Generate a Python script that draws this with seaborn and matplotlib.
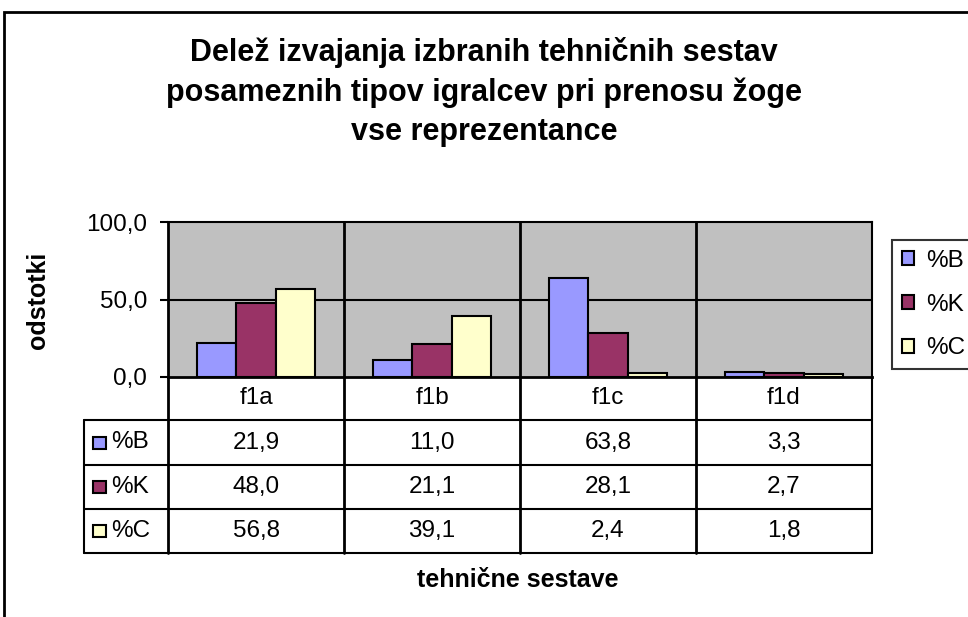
import numpy as np
import pandas as pd
import matplotlib
matplotlib.use('Agg')
import matplotlib.pyplot as plt
import matplotlib.patches as mpatches
from matplotlib.ticker import FuncFormatter
import seaborn as sns

# ── Data ───────────────────────────────────────────────────
categories = ['f1a', 'f1b', 'f1c', 'f1d']
series = ['%B', '%K', '%C']
pct_B = [21.9, 11.0, 63.8, 3.3]
pct_K = [48.0, 21.1, 28.1, 2.7]
pct_C = [56.8, 39.1, 2.4, 1.8]
colors = ['#9999FF', '#993366', '#FFFFCC']

title = ('Delež izvajanja izbranih tehničnih sestav\n'
         'posameznih tipov igralcev pri prenosu žoge\n'
         'vse reprezentance')

df = pd.DataFrame({
    'sestava': categories * 3,
    'serija': [s for s in series for _ in categories],
    'odstotek': pct_B + pct_K + pct_C,
})

def comma(v):
    return f'{v:.1f}'.replace('.', ',')

# ── Figure ─────────────────────────────────────────────────
sns.set_theme(style='white')
plt.rcParams['font.family'] = ['Liberation Sans', 'DejaVu Sans']
plt.rcParams['text.color'] = 'black'
plt.rcParams['ytick.color'] = 'black'
plt.rcParams['xtick.color'] = 'black'
plt.rcParams['axes.labelcolor'] = 'black'

FS = 17.5   # table / ticks / legend
W, H = 968, 617
fig = plt.figure(figsize=(W / 100, H / 100), dpi=100)

def fx(px):
    return px / W

def fy(py):
    return 1 - py / H

# outer chart border (clipped at right / bottom like the reference)
fig.patches.append(mpatches.Rectangle((fx(4), -0.1), 1.2, fy(12) + 0.1,
                                      transform=fig.transFigure, fill=False,
                                      edgecolor='black', linewidth=2))

# plot area
ax = fig.add_axes([fx(168), fy(377), fx(872 - 168), (377 - 222) / H])
ax.set_facecolor('#C0C0C0')
sns.barplot(data=df, x='sestava', y='odstotek', hue='serija', palette=colors,
            width=0.665, edgecolor='black', linewidth=1.5, ax=ax,
            legend=False, saturation=1)
ax.set_xlim(-0.5, 3.5)
ax.set_ylim(0, 100)
ax.set_yticks([0, 50, 100])
ax.yaxis.set_major_formatter(FuncFormatter(lambda v, p: comma(v)))
ax.tick_params(axis='y', direction='out', length=6, width=1.5, labelsize=FS,
               left=True, pad=9)
ax.set_xticks([])
ax.set_xlabel('')
ax.set_ylabel('')
ax.axhline(50, color='black', lw=1.5, zorder=0.5)
for x in [0.5, 1.5, 2.5]:
    ax.axvline(x, color='black', lw=2, zorder=0.5)
for sp in ax.spines.values():
    sp.set_color('black')
    sp.set_linewidth(1.5)
ax.spines['left'].set_linewidth(2)
ax.spines['bottom'].set_linewidth(2)

# data table
left_units = 84 / 176
tax = fig.add_axes([fx(84), fy(553), fx(872 - 84), (553 - 377) / H])
tax.set_xlim(-0.5 - left_units, 3.5)
tax.set_ylim(176, 0)
tax.axis('off')
row_edges = [0, 43, 88, 132, 176]
lw = 1.5
for y in row_edges[1:]:
    tax.plot([-0.5 - left_units, 3.5], [y, y], color='black', lw=lw, clip_on=False)
for x in [-0.5, 0.5, 1.5, 2.5, 3.5]:
    tax.plot([x, x], [0, 176], color='black', lw=2 if x < 3.5 else lw, clip_on=False)
tax.plot([-0.5 - left_units] * 2, [43, 176], color='black', lw=lw, clip_on=False)

for i, c in enumerate(categories):
    tax.text(i, 21.5, c, ha='center', va='center', fontsize=FS)

rows = [pct_B, pct_K, pct_C]
for r, (name, vals, col) in enumerate(zip(series, rows, colors)):
    yc = (row_edges[r + 1] + row_edges[r + 2]) / 2
    tax.add_patch(mpatches.Rectangle((-0.5 - left_units + 9 / 176, yc - 6),
                                     13 / 176, 12, facecolor=col,
                                     edgecolor='black', lw=1.5, clip_on=False))
    tax.text(-0.5 - left_units + 27 / 176, yc, name, ha='left', va='center', fontsize=FS)
    for i, v in enumerate(vals):
        tax.text(i, yc, comma(v), ha='center', va='center', fontsize=FS)

# legend
handles = [mpatches.Patch(facecolor=c, edgecolor='black', lw=1.5, label=s)
           for s, c in zip(series, colors)]
leg = fig.legend(handles=handles, loc='upper left',
                 bbox_to_anchor=(fx(892), fy(240)), bbox_transform=fig.transFigure,
                 fontsize=FS, frameon=True, fancybox=False, handlelength=0.5,
                 handleheight=0.5, handletextpad=0.5, labelspacing=0.9,
                 borderpad=0.4, borderaxespad=0)
leg.get_frame().set_edgecolor('black')
leg.get_frame().set_linewidth(1.5)

# texts
fig.text(0.5, fy(92), title, ha='center', va='center', fontsize=22,
         fontweight='bold', linespacing=1.41)
fig.text(fx(38), fy(300), 'odstotki', rotation=90, ha='center', va='center',
         fontsize=18, fontweight='bold')
fig.text(fx(518), fy(580), 'tehnične sestave', ha='center', va='center',
         fontsize=18, fontweight='bold')

fig.savefig('out.png', dpi=100)
